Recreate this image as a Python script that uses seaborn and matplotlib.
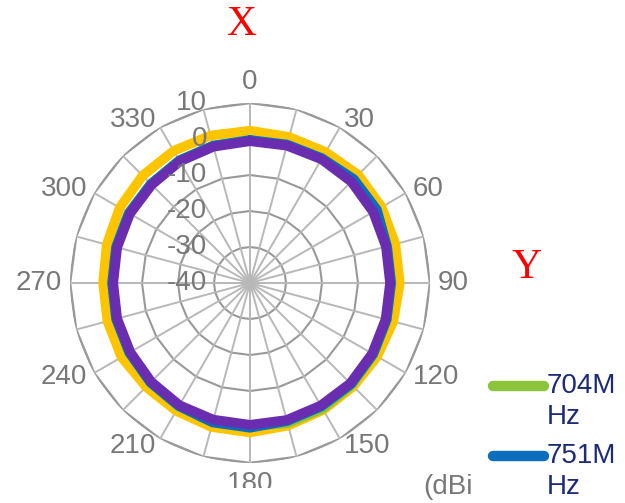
import numpy as np
import pandas as pd
import seaborn as sns
import matplotlib
matplotlib.use("Agg")
import matplotlib.pyplot as plt
from matplotlib.lines import Line2D
from matplotlib.patches import Rectangle

# antenna gain (dBi) every 15 degrees, 0..345
ANGLES_DEG = list(range(0, 360, 15))
GAIN_YELLOW = [2.3, 2.0, 2.0, 2.5, 2.2, 1.8, 1.6, 1.2, 0.8, 0.6, 0.7, 1.0,
               1.5, 1.4, 1.0, 0.8, 1.2, 1.0, 0.8, 1.2, 1.8, 2.2, 2.4, 2.4]
GAIN_704 = [-0.3, -0.2, 0.0, 0.1, -0.2, -0.6, -0.8, -0.7, -0.4, 0.0, 0.3, 0.3,
            -0.3, -0.4, -0.5, -0.9, -1.3, -1.5, -1.7, -1.5, -1.2, -1.1, -0.7, -0.5]
GAIN_751 = [-0.3, -0.2, 0.0, 0.8, 0.7, -0.6, -0.8, -0.7, -0.5, -0.3, -0.4, -0.3,
            0.2, 0.1, -0.5, -0.9, -1.3, -1.5, -1.7, -1.5, -1.2, -1.1, -0.7, -0.5]
GAIN_PURPLE = [-0.6, -0.5, -0.3, -0.2, -0.5, -0.9, -1.1, -1.0, -0.8, -0.6, -0.7, -0.6,
               -0.6, -0.7, -0.8, -1.2, -1.6, -1.8, -2.0, -1.8, -1.5, -1.4, -1.0, -0.8]

SERIES = ["yellow", "704MHz", "751MHz", "purple"]
COLORS = ["#FCC500", "#8CC43C", "#0B6EBE", "#6A2DAF"]

RING_LEVELS = [-30, -20, -10, 0, 10]
RADIAL_LABELS = ["10", "0", "-10", "-20", "-30", "-40"]
RADIAL_LABEL_POS = [10, 0, -10, -20, -30, -40]
ANGLE_TICKS = list(range(0, 360, 30))

LEGEND_NAMES = ["704M", "751M"]
LEGEND_COLORS = ["#8CC43C", "#0B6EBE"]

sns.set_style("white")
plt.rcParams['font.family'] = ['Liberation Sans', 'DejaVu Sans']

# long-form table for seaborn, closing each loop
rows = []
for name, vals in zip(SERIES, [GAIN_YELLOW, GAIN_704, GAIN_751, GAIN_PURPLE]):
    for a, g in zip(ANGLES_DEG + [360], vals + [vals[0]]):
        rows.append({"theta": np.deg2rad(a), "gain": g, "series": name})
df = pd.DataFrame(rows)

fig = plt.figure(figsize=(6.25, 5.03), dpi=100)
ax = fig.add_axes([0.112, 0.0795, 0.576, 0.7157], projection='polar')
ax.set_theta_zero_location('N')
ax.set_theta_direction(-1)
ax.set_ylim(-40, 10)
ax.grid(False)
ax.set_xticks([])
ax.set_yticks([])
ax.spines['polar'].set_visible(False)

# polygon grid
grid_theta = np.deg2rad(ANGLES_DEG + [360])
for lvl in RING_LEVELS:
    ax.plot(grid_theta, [lvl] * len(grid_theta), color="#999999",
            lw=1.8 if lvl == 10 else 1.5, zorder=1)
for a in ANGLES_DEG:
    ax.plot([np.deg2rad(a)] * 2, [-40, 10], color="#b8b8b8", lw=1.4, zorder=1)

sns.lineplot(data=df, x="theta", y="gain", hue="series", hue_order=SERIES,
             palette=dict(zip(SERIES, COLORS)), sort=False, estimator=None,
             linewidth=7, legend=False, ax=ax, zorder=3)
ax.set_xlabel("")
ax.set_ylabel("")

txt_gray = "#787878"
for a in ANGLE_TICKS:
    if a == 0:
        ha, va = 'center', 'bottom'
    elif a == 180:
        ha, va = 'center', 'top'
    elif a < 180:
        ha, va = 'left', 'center'
    else:
        ha, va = 'right', 'center'
    ax.text(np.deg2rad(a), 12.2, str(a), ha=ha, va=va, fontsize=20, color=txt_gray)
for lab, r in zip(RADIAL_LABELS, RADIAL_LABEL_POS):
    ax.annotate(lab, xy=(0, r), xytext=(-31, 0), textcoords='offset points',
                ha='right', va='center', fontsize=20, color=txt_gray, zorder=5)

# bottom strip hides the lower part of "180" as in the source
fig.patches.append(Rectangle((0, 0), 0.66, 15 / 503, transform=fig.transFigure,
                             facecolor="white", edgecolor="none", zorder=10))

fig.text(423 / 625, 1 - 487 / 503, "(dBi", ha='left', va='center',
         fontsize=20, color=txt_gray)

fig.text(241 / 625, 1 - 25 / 503, "X", ha='center', va='center', fontsize=30,
         color="red", family=['Liberation Serif', 'DejaVu Serif'])
fig.text(527 / 625, 1 - 268 / 503, "Y", ha='center', va='center', fontsize=30,
         color="red", family=['Liberation Serif', 'DejaVu Serif'])

# legend (cut off at the bottom of the image)
for i, (name, col) in enumerate(zip(LEGEND_NAMES, LEGEND_COLORS)):
    y = 1 - (386 + i * 70) / 503
    fig.add_artist(Line2D([493 / 625, 544 / 625], [y, y], color=col, lw=7.5,
                          solid_capstyle='round', transform=fig.transFigure))
    fig.text(547 / 625, y, name, ha='left', va='center', fontsize=20, color="#1C2A78")
    fig.text(547 / 625, y - 31 / 503, "Hz", ha='left', va='center', fontsize=20,
             color="#1C2A78")

fig.savefig("out.png", dpi=100)
